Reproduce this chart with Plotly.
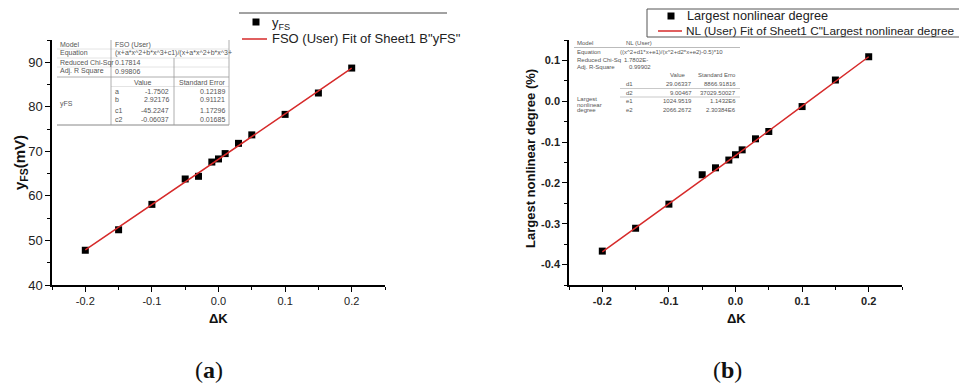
import plotly.graph_objects as go

W, H = 959, 387

# ---- data: panel (a) output yFS vs ΔK ----
dk_a = [-0.2, -0.15, -0.1, -0.05, -0.03, -0.01, 0.0, 0.01, 0.03, 0.05, 0.1, 0.15, 0.2]
yfs = [47.8, 52.4, 58.1, 63.8, 64.4, 67.6, 68.3, 69.5, 71.8, 73.7, 78.3, 83.1, 88.7]
fit_a_x = [-0.2, -0.1, 0.0, 0.1, 0.2]
fit_a_y = [47.9, 58.0, 68.3, 78.4, 88.7]

# ---- data: panel (b) largest nonlinear degree vs ΔK ----
dk_b = [-0.2, -0.15, -0.1, -0.05, -0.03, -0.01, 0.0, 0.01, 0.03, 0.05, 0.1, 0.15, 0.2]
nl = [-0.367, -0.311, -0.252, -0.180, -0.163, -0.144, -0.131, -0.119, -0.092, -0.074, -0.013, 0.052, 0.109]
fit_b_x = [-0.2, -0.1, 0.0, 0.1, 0.2]
fit_b_y = [-0.369, -0.252, -0.133, -0.012, 0.109]

x_ticks = [-0.2, -0.1, 0.0, 0.1, 0.2]
x_ticktext = ["-0.2", "-0.1", "0.0", "0.1", "0.2"]
ya_ticks = [40, 50, 60, 70, 80, 90]
yb_ticks = [-0.4, -0.3, -0.2, -0.1, 0.0, 0.1]
yb_ticktext = ["-0.4", "-0.3", "-0.2", "-0.1", "0.0", "0.1"]

legend_a = ["y<sub>FS</sub>", 'FSO (User) Fit of Sheet1 B"yFS"']
legend_b = ["Largest nonlinear degree", 'NL (User) Fit of Sheet1 C"Largest nonlinear degree']

RED = "#d62a2a"
FONT = "Liberation Sans"


def px(x):
    return x / W


def py(y):
    return 1 - y / H


fig = go.Figure()

fig.add_trace(go.Scatter(x=dk_a, y=yfs, mode="markers", name=legend_a[0],
                         marker=dict(symbol="square", size=7, color="black"),
                         xaxis="x", yaxis="y"))
fig.add_trace(go.Scatter(x=fit_a_x, y=fit_a_y, mode="lines", name=legend_a[1],
                         line=dict(color=RED, width=1.5), xaxis="x", yaxis="y"))
fig.add_trace(go.Scatter(x=dk_b, y=nl, mode="markers", name=legend_b[0],
                         marker=dict(symbol="square", size=7, color="black"),
                         xaxis="x2", yaxis="y2"))
fig.add_trace(go.Scatter(x=fit_b_x, y=fit_b_y, mode="lines", name=legend_b[1],
                         line=dict(color=RED, width=1.5), xaxis="x2", yaxis="y2"))

common_axis = dict(showline=True, linecolor="black", linewidth=1.5, showgrid=False,
                   zeroline=False, ticks="outside", ticklen=5, tickwidth=1.2,
                   tickcolor="black", mirror=False)

y_dom = [py(285), py(40)]
fig.update_layout(
    width=W, height=H,
    margin=dict(l=0, r=0, t=0, b=0, autoexpand=False),
    paper_bgcolor="white", plot_bgcolor="white",
    showlegend=False,
    xaxis=dict(domain=[px(52), px(385)], range=[-0.25, 0.25], anchor="y",
               tickvals=x_ticks, ticktext=x_ticktext,
               tickfont=dict(family=FONT, size=11, color="#222"),
               minor=dict(ticks="outside", ticklen=3, tickcolor="black", dtick=0.05, tick0=0),
               **common_axis),
    yaxis=dict(domain=y_dom, range=[40, 95], anchor="x",
               tickvals=ya_ticks,
               tickfont=dict(family=FONT, size=13, color="#222"),
               minor=dict(ticks="outside", ticklen=3, tickcolor="black", dtick=5, tick0=0),
               **common_axis),
    xaxis2=dict(domain=[px(569), px(902)], range=[-0.25, 0.25], anchor="y2",
                tickvals=x_ticks, ticktext=x_ticktext,
                tickfont=dict(family=FONT, size=11, color="#222", weight="bold"),
                minor=dict(ticks="outside", ticklen=3, tickcolor="black", dtick=0.05, tick0=0),
                **common_axis),
    yaxis2=dict(domain=y_dom, range=[-0.45, 0.15], anchor="x2",
                tickvals=yb_ticks, ticktext=yb_ticktext,
                tickfont=dict(family=FONT, size=11, color="#222", weight="bold"),
                minor=dict(ticks="outside", ticklen=3, tickcolor="black", dtick=0.05, tick0=0),
                **common_axis),
)

shapes = []
annos = []


def hline(x0, x1, y, color="#999", w=0.8):
    shapes.append(dict(type="line", xref="paper", yref="paper", x0=px(x0), x1=px(x1),
                       y0=py(y), y1=py(y), line=dict(color=color, width=w)))


def vline(x, y0, y1, color="#999", w=0.8):
    shapes.append(dict(type="line", xref="paper", yref="paper", x0=px(x), x1=px(x),
                       y0=py(y0), y1=py(y1), line=dict(color=color, width=w)))


def square(cx, cy, s=7):
    shapes.append(dict(type="rect", xref="paper", yref="paper",
                       x0=px(cx - s / 2), x1=px(cx + s / 2), y0=py(cy + s / 2), y1=py(cy - s / 2),
                       fillcolor="black", line=dict(width=0)))


def txt(x, y, s, anchor="left", size=7, color="#555", bold=False):
    annos.append(dict(x=px(x), y=py(y), xref="paper", yref="paper", text=s,
                      showarrow=False, xanchor=anchor, yanchor="middle",
                      font=dict(family=FONT, size=size, color=color,
                                weight="bold" if bold else "normal")))


# ---- legend, panel (a) ----
hline(239, 447, 13, color="#444", w=1)
square(256, 22)
txt(270, 23, legend_a[0], size=13, color="#222")
hline(242, 267, 39, color=RED, w=1.5)
txt(270, 39, legend_a[1], size=13, color="#222")

# ---- legend, panel (b) ----
shapes.append(dict(type="rect", xref="paper", yref="paper", x0=px(647), x1=px(970),
                   y0=py(37), y1=py(9), line=dict(color="#555", width=1), fillcolor="white"))
square(671, 16)
txt(685, 16, legend_b[0], size=12.7, color="#222")
hline(658, 682, 31, color=RED, w=1.5)
txt(684, 31, legend_b[1], size=11.8, color="#222")

# ---- fit report table, panel (a) ----
for yy in (49, 58, 67):
    hline(57, 229, yy, color="#ddd")
hline(57, 229, 77, color="#999")
hline(111, 229, 86.5, color="#ddd")
hline(57, 229, 125, color="#888", w=1)
vline(111, 40, 125)
vline(174, 58, 125)
vline(229, 40, 125)

rows_a = [("Model", 45), ("Equation", 53.5), ("Reduced Chi-Sqr", 62.5), ("Adj. R Square", 71.5)]
for s, yy in rows_a:
    txt(58, yy, s)
txt(113, 45, "FSO (User)")
txt(113, 53.5, "(x+a*x^2+b*x^3+c1)/(x+a*x^2+b*x^3+")
txt(113, 62.5, "0.17814")
txt(113, 71.5, "0.99806")
txt(142, 82, "Value", anchor="center")
txt(202, 82, "Standard Error", anchor="center")
txt(58, 104, "yFS")
params_a = [("a", "-1.7502", "0.12189", 91),
            ("b", "2.92176", "0.91121", 100),
            ("c1", "-45.2247", "1.17296", 110),
            ("c2", "-0.06037", "0.01685", 119)]
for p, v, e, yy in params_a:
    txt(113, yy, p)
    txt(171, yy, v, anchor="right")
    txt(227, yy, e, anchor="right")

# ---- fit report table, panel (b) ----
TB = 6
hline(574, 740, 47.5, color="#aaa")
hline(620, 740, 88.5, color="#bbb")
hline(620, 740, 97, color="#bbb")
rows_b = [("Model", 43), ("Equation", 52), ("Reduced Chi-Sq", 59.5), ("Adj. R-Square", 66.5)]
for s, yy in rows_b:
    txt(575, yy, s, size=TB)
txt(624, 43, "NL (User)", size=TB)
txt(618, 52, "((x^2+d1*x+e1)/(x^2+d2*x+e2)-0.5)*10", size=TB)
txt(622, 59.5, "1.7802E-", size=TB)
txt(627, 66.5, "0.99902", size=TB)
txt(678, 75, "Value", anchor="center", size=TB)
txt(738, 75, "Standard Erro", anchor="right", size=TB)
txt(575, 99, "Largest", size=TB)
txt(575, 104.5, "nonlinear", size=TB)
txt(575, 110, "degree", size=TB)
params_b = [("d1", "29.06337", "8866.91816", 84),
            ("d2", "9.00467", "37029.50027", 92.5),
            ("e1", "1024.9519", "1.1432E6", 101),
            ("e2", "2066.2672", "2.30384E6", 109.5)]
for p, v, e, yy in params_b:
    txt(624, yy, p, size=TB)
    txt(694, yy, v, anchor="right", size=TB)
    txt(738, yy, e, anchor="right", size=TB)

# ---- axis titles ----
annos.append(dict(x=px(21), y=py(163), xref="paper", yref="paper",
                  text="<b>y<sub>FS</sub>(mV)</b>", textangle=-90, showarrow=False,
                  xanchor="center", yanchor="middle",
                  font=dict(family=FONT, size=15, color="#111")))
annos.append(dict(x=px(530), y=py(159), xref="paper", yref="paper",
                  text="<b>Largest nonlinear degree (%)</b>", textangle=-90, showarrow=False,
                  xanchor="center", yanchor="middle",
                  font=dict(family=FONT, size=13, color="#111")))
for cx in (218, 736):
    annos.append(dict(x=px(cx), y=py(318), xref="paper", yref="paper",
                      text="<b>ΔK</b>", showarrow=False, xanchor="center", yanchor="middle",
                      font=dict(family=FONT, size=13, color="#111")))

# ---- panel labels ----
for cx, lab in ((209, "(<b>a</b>)"), (727, "(<b>b</b>)")):
    annos.append(dict(x=px(cx), y=py(370), xref="paper", yref="paper",
                      text=lab, showarrow=False, xanchor="center", yanchor="middle",
                      font=dict(family="Liberation Serif", size=24, color="#111")))

fig.update_layout(shapes=shapes, annotations=annos)
fig.write_html("out.html")
